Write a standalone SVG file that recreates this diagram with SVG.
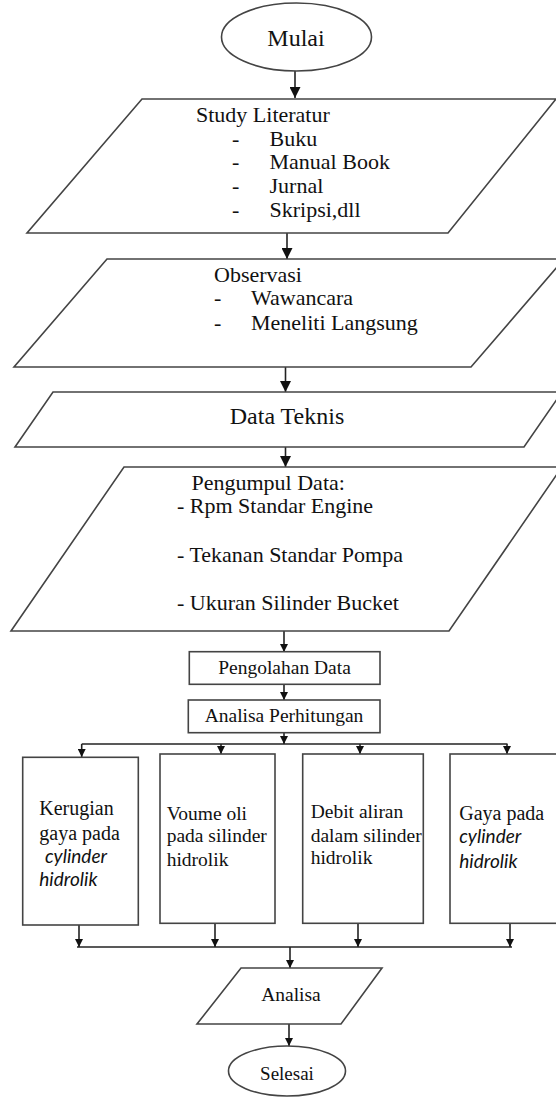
<svg xmlns="http://www.w3.org/2000/svg" width="556" height="1097" viewBox="0 0 556 1097">
<defs>
<style>
.shape{fill:#fff;stroke:#444;stroke-width:1.6}
.t{font-family:'Liberation Serif','Times New Roman','DejaVu Serif',serif;fill:#111}
.it{font-family:Lato,'Open Sans',sans-serif;font-style:italic;fill:#111}
.c{text-anchor:middle}
.ln{fill:none;stroke:#222;stroke-width:1.6}
</style>
<marker id="big" markerWidth="11" markerHeight="11" refX="11" refY="5.5" orient="auto" markerUnits="userSpaceOnUse"><path d="M0,0 L11,5.5 L0,11 z" fill="#111"/></marker>
<marker id="sm" markerWidth="8" markerHeight="8" refX="8" refY="4" orient="auto" markerUnits="userSpaceOnUse"><path d="M0,0 L8,4 L0,8 z" fill="#111"/></marker>
</defs>
<rect width="556" height="1097" fill="#fff"/>

<g id="connectors">
<path class="ln" d="M295,71 V98" marker-end="url(#big)"/>
<path class="ln" d="M287,233 V259" marker-end="url(#big)"/>
<path class="ln" d="M285.5,367 V392" marker-end="url(#big)"/>
<path class="ln" d="M285.5,447 V467" marker-end="url(#big)"/>
<path class="ln" d="M284,631 V652" marker-end="url(#sm)"/>
<path class="ln" d="M284,684 V700" marker-end="url(#sm)"/>
<path class="ln" d="M284,733 V744" marker-end="url(#sm)"/>
<path class="ln" d="M81.7,744 H507.5"/>
<path class="ln" d="M81.7,744 V757" marker-end="url(#sm)"/>
<path class="ln" d="M221,744 V754" marker-end="url(#sm)"/>
<path class="ln" d="M360,744 V754" marker-end="url(#sm)"/>
<path class="ln" d="M507,744 V754" marker-end="url(#sm)"/>
<path class="ln" d="M79,925 V947" marker-end="url(#sm)"/>
<path class="ln" d="M215,923 V947" marker-end="url(#sm)"/>
<path class="ln" d="M358,923 V947" marker-end="url(#sm)"/>
<path class="ln" d="M510,923 V947" marker-end="url(#sm)"/>
<path class="ln" d="M77,947 H512"/>
<path class="ln" d="M290,947 V968" marker-end="url(#sm)"/>
<path class="ln" d="M289,1024 V1046" marker-end="url(#sm)"/>
</g>

<g id="mulai">
<ellipse class="shape" cx="296.5" cy="37" rx="75" ry="34"/>
<text class="t c" x="296" y="46" font-size="24">Mulai</text>
</g>

<g id="study-literatur">
<polygon class="shape" points="142,99 556,99 448,233 27,233"/>
<text class="t" x="196" y="122" font-size="22">Study Literatur</text>
<text class="t" x="232" y="146" font-size="22">-</text><text class="t" x="269.5" y="146" font-size="22">Buku</text>
<text class="t" x="232" y="169" font-size="22">-</text><text class="t" x="269.5" y="169" font-size="22">Manual Book</text>
<text class="t" x="232" y="193" font-size="22">-</text><text class="t" x="269.5" y="193" font-size="22">Jurnal</text>
<text class="t" x="232" y="217" font-size="22">-</text><text class="t" x="269.5" y="217" font-size="22">Skripsi,dll</text>
</g>

<g id="observasi">
<polygon class="shape" points="107,259 564,259 471,367 14,367"/>
<text class="t" x="214" y="282" font-size="22">Observasi</text>
<text class="t" x="214" y="305" font-size="22">-</text><text class="t" x="251" y="305" font-size="22">Wawancara</text>
<text class="t" x="214" y="330" font-size="22">-</text><text class="t" x="251" y="330" font-size="22">Meneliti Langsung</text>
</g>

<g id="data-teknis">
<polygon class="shape" points="53,392 562,392 524,447 15,447"/>
<text class="t c" x="287" y="424" font-size="24">Data Teknis</text>
</g>

<g id="pengumpul-data">
<polygon class="shape" points="124,467 562,467 449,631 11,631"/>
<text class="t" x="191.5" y="490" font-size="22">Pengumpul Data:</text>
<text class="t" x="177" y="513" font-size="22">- Rpm Standar Engine</text>
<text class="t" x="177" y="562" font-size="22">- Tekanan Standar Pompa</text>
<text class="t" x="177" y="610" font-size="22">- Ukuran Silinder Bucket</text>
</g>

<g id="pengolahan-data">
<rect class="shape" x="189.3" y="651.7" width="190.7" height="32.6"/>
<text class="t c" x="284.5" y="674" font-size="19.5">Pengolahan Data</text>
</g>

<g id="analisa-perhitungan">
<rect class="shape" x="188.3" y="700" width="191.7" height="32.7"/>
<text class="t c" x="284" y="722" font-size="19.5">Analisa Perhitungan</text>
</g>

<g id="kerugian">
<rect class="shape" x="22.7" y="757.3" width="115.6" height="167.7"/>
<text class="t" x="39.3" y="815" font-size="20">Kerugian</text>
<text class="t" x="39.3" y="840" font-size="20">gaya pada</text>
<text class="it" x="45" y="863" font-size="19">cylinder</text>
<text class="it" x="39.3" y="886" font-size="19">hidrolik</text>
</g>

<g id="volume-oli">
<rect class="shape" x="160" y="754" width="115" height="169.3"/>
<text class="t" x="166.7" y="820" font-size="19.5">Voume oli</text>
<text class="t" x="166.7" y="842" font-size="19.5">pada silinder</text>
<text class="t" x="166.7" y="866" font-size="19.5">hidrolik</text>
</g>

<g id="debit-aliran">
<rect class="shape" x="302.7" y="754" width="120.6" height="169.3"/>
<text class="t" x="310.7" y="818" font-size="19.5">Debit aliran</text>
<text class="t" x="310.7" y="842" font-size="19.5">dalam silinder</text>
<text class="t" x="310.7" y="864" font-size="19.5">hidrolik</text>
</g>

<g id="gaya-pada">
<rect class="shape" x="450" y="754" width="108" height="169.3"/>
<text class="t" x="459.3" y="820" font-size="20">Gaya pada</text>
<text class="it" x="459.3" y="843" font-size="19">cylinder</text>
<text class="it" x="459.3" y="868" font-size="19">hidrolik</text>
</g>

<g id="analisa">
<polygon class="shape" points="241,968 382,968 341,1024 197,1024"/>
<text class="t c" x="291" y="1001" font-size="19.5">Analisa</text>
</g>

<g id="selesai">
<ellipse class="shape" cx="287" cy="1071" rx="58.5" ry="25"/>
<text class="t c" x="287" y="1080" font-size="19">Selesai</text>
</g>
</svg>
